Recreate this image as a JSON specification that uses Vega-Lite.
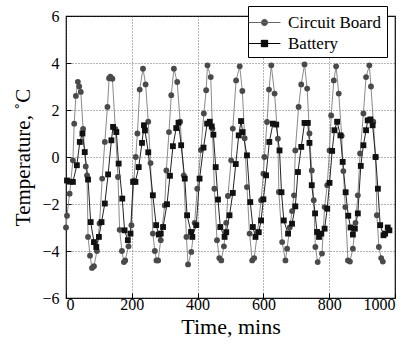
{
  "$schema": "https://vega.github.io/schema/vega-lite/v6.json",
  "width": 329,
  "height": 282,
  "autosize": "none",
  "padding": {"left": 66, "top": 16, "right": 22, "bottom": 51},
  "background": "white",
  "config": {
    "view": {"stroke": "black", "strokeWidth": 1.2},
    "font": "Liberation Serif",
    "legend": {"labelFont": "Times New Roman", "labelFontSize": 17, "labelColor": "black"},
    "text": {"font": "Liberation Serif"}
  },
  "data": {
    "values": [
      {"t": 0, "v": -3.0, "s": "Circuit Board"},
      {"t": 3, "v": -2.5, "s": "Circuit Board"},
      {"t": 11, "v": -1.56, "s": "Circuit Board"},
      {"t": 21, "v": -0.14, "s": "Circuit Board"},
      {"t": 25, "v": 1.42, "s": "Circuit Board"},
      {"t": 30, "v": 2.6, "s": "Circuit Board"},
      {"t": 36, "v": 3.2, "s": "Circuit Board"},
      {"t": 40, "v": 3.0, "s": "Circuit Board"},
      {"t": 45, "v": 2.77, "s": "Circuit Board"},
      {"t": 52, "v": 1.2, "s": "Circuit Board"},
      {"t": 60, "v": -0.4, "s": "Circuit Board"},
      {"t": 64, "v": -0.78, "s": "Circuit Board"},
      {"t": 67, "v": -3.4, "s": "Circuit Board"},
      {"t": 73, "v": -4.2, "s": "Circuit Board"},
      {"t": 79, "v": -4.72, "s": "Circuit Board"},
      {"t": 85, "v": -4.65, "s": "Circuit Board"},
      {"t": 94, "v": -4.0, "s": "Circuit Board"},
      {"t": 102, "v": -2.83, "s": "Circuit Board"},
      {"t": 110, "v": -0.92, "s": "Circuit Board"},
      {"t": 118, "v": 0.64, "s": "Circuit Board"},
      {"t": 126, "v": 2.13, "s": "Circuit Board"},
      {"t": 131, "v": 3.35, "s": "Circuit Board"},
      {"t": 135, "v": 3.42, "s": "Circuit Board"},
      {"t": 141, "v": 3.33, "s": "Circuit Board"},
      {"t": 150, "v": 1.2, "s": "Circuit Board"},
      {"t": 158, "v": -0.85, "s": "Circuit Board"},
      {"t": 163, "v": -3.1, "s": "Circuit Board"},
      {"t": 170, "v": -4.0, "s": "Circuit Board"},
      {"t": 176, "v": -4.47, "s": "Circuit Board"},
      {"t": 180, "v": -4.4, "s": "Circuit Board"},
      {"t": 190, "v": -3.8, "s": "Circuit Board"},
      {"t": 199, "v": -2.9, "s": "Circuit Board"},
      {"t": 206, "v": -1.0, "s": "Circuit Board"},
      {"t": 212, "v": 0.0, "s": "Circuit Board"},
      {"t": 217, "v": 1.0, "s": "Circuit Board"},
      {"t": 224, "v": 2.87, "s": "Circuit Board"},
      {"t": 234, "v": 3.76, "s": "Circuit Board"},
      {"t": 242, "v": 3.09, "s": "Circuit Board"},
      {"t": 250, "v": 1.5, "s": "Circuit Board"},
      {"t": 257, "v": -0.26, "s": "Circuit Board"},
      {"t": 264, "v": -3.26, "s": "Circuit Board"},
      {"t": 270, "v": -4.0, "s": "Circuit Board"},
      {"t": 275, "v": -4.4, "s": "Circuit Board"},
      {"t": 280, "v": -4.4, "s": "Circuit Board"},
      {"t": 288, "v": -3.54, "s": "Circuit Board"},
      {"t": 300, "v": -2.06, "s": "Circuit Board"},
      {"t": 305, "v": -0.57, "s": "Circuit Board"},
      {"t": 313, "v": 1.06, "s": "Circuit Board"},
      {"t": 320, "v": 2.63, "s": "Circuit Board"},
      {"t": 328, "v": 3.76, "s": "Circuit Board"},
      {"t": 338, "v": 3.19, "s": "Circuit Board"},
      {"t": 347, "v": 1.5, "s": "Circuit Board"},
      {"t": 358, "v": -0.78, "s": "Circuit Board"},
      {"t": 366, "v": -3.4, "s": "Circuit Board"},
      {"t": 371, "v": -4.57, "s": "Circuit Board"},
      {"t": 381, "v": -4.04, "s": "Circuit Board"},
      {"t": 391, "v": -2.8, "s": "Circuit Board"},
      {"t": 399, "v": -1.35, "s": "Circuit Board"},
      {"t": 410, "v": 0.3, "s": "Circuit Board"},
      {"t": 419, "v": 1.85, "s": "Circuit Board"},
      {"t": 426, "v": 2.84, "s": "Circuit Board"},
      {"t": 430, "v": 3.9, "s": "Circuit Board"},
      {"t": 440, "v": 3.4, "s": "Circuit Board"},
      {"t": 445, "v": 1.2, "s": "Circuit Board"},
      {"t": 451, "v": -1.35, "s": "Circuit Board"},
      {"t": 459, "v": -3.54, "s": "Circuit Board"},
      {"t": 466, "v": -4.3, "s": "Circuit Board"},
      {"t": 472, "v": -4.4, "s": "Circuit Board"},
      {"t": 480, "v": -3.8, "s": "Circuit Board"},
      {"t": 487, "v": -2.8, "s": "Circuit Board"},
      {"t": 492, "v": -1.66, "s": "Circuit Board"},
      {"t": 502, "v": -0.14, "s": "Circuit Board"},
      {"t": 507, "v": 1.21, "s": "Circuit Board"},
      {"t": 517, "v": 3.26, "s": "Circuit Board"},
      {"t": 528, "v": 3.86, "s": "Circuit Board"},
      {"t": 536, "v": 2.81, "s": "Circuit Board"},
      {"t": 543, "v": 0.8, "s": "Circuit Board"},
      {"t": 550, "v": -1.28, "s": "Circuit Board"},
      {"t": 558, "v": -3.26, "s": "Circuit Board"},
      {"t": 566, "v": -4.4, "s": "Circuit Board"},
      {"t": 572, "v": -4.3, "s": "Circuit Board"},
      {"t": 582, "v": -3.2, "s": "Circuit Board"},
      {"t": 593, "v": -1.84, "s": "Circuit Board"},
      {"t": 600, "v": -0.71, "s": "Circuit Board"},
      {"t": 603, "v": 0.0, "s": "Circuit Board"},
      {"t": 611, "v": 1.49, "s": "Circuit Board"},
      {"t": 617, "v": 2.87, "s": "Circuit Board"},
      {"t": 624, "v": 3.9, "s": "Circuit Board"},
      {"t": 634, "v": 2.7, "s": "Circuit Board"},
      {"t": 644, "v": 0.78, "s": "Circuit Board"},
      {"t": 647, "v": -1.49, "s": "Circuit Board"},
      {"t": 657, "v": -3.62, "s": "Circuit Board"},
      {"t": 667, "v": -4.4, "s": "Circuit Board"},
      {"t": 672, "v": -3.9, "s": "Circuit Board"},
      {"t": 680, "v": -3.0, "s": "Circuit Board"},
      {"t": 687, "v": -2.3, "s": "Circuit Board"},
      {"t": 693, "v": -1.63, "s": "Circuit Board"},
      {"t": 697, "v": 0.28, "s": "Circuit Board"},
      {"t": 707, "v": 2.13, "s": "Circuit Board"},
      {"t": 715, "v": 3.09, "s": "Circuit Board"},
      {"t": 725, "v": 3.94, "s": "Circuit Board"},
      {"t": 733, "v": 2.91, "s": "Circuit Board"},
      {"t": 740, "v": 1.0, "s": "Circuit Board"},
      {"t": 747, "v": -0.57, "s": "Circuit Board"},
      {"t": 753, "v": -1.84, "s": "Circuit Board"},
      {"t": 758, "v": -3.83, "s": "Circuit Board"},
      {"t": 765, "v": -4.47, "s": "Circuit Board"},
      {"t": 778, "v": -4.11, "s": "Circuit Board"},
      {"t": 786, "v": -2.13, "s": "Circuit Board"},
      {"t": 794, "v": -1.2, "s": "Circuit Board"},
      {"t": 801, "v": 0.28, "s": "Circuit Board"},
      {"t": 806, "v": 1.77, "s": "Circuit Board"},
      {"t": 814, "v": 3.26, "s": "Circuit Board"},
      {"t": 821, "v": 3.86, "s": "Circuit Board"},
      {"t": 829, "v": 2.7, "s": "Circuit Board"},
      {"t": 838, "v": 0.9, "s": "Circuit Board"},
      {"t": 843, "v": -0.6, "s": "Circuit Board"},
      {"t": 849, "v": -2.13, "s": "Circuit Board"},
      {"t": 857, "v": -4.4, "s": "Circuit Board"},
      {"t": 863, "v": -4.45, "s": "Circuit Board"},
      {"t": 872, "v": -3.9, "s": "Circuit Board"},
      {"t": 880, "v": -2.8, "s": "Circuit Board"},
      {"t": 887, "v": -1.63, "s": "Circuit Board"},
      {"t": 894, "v": 0.15, "s": "Circuit Board"},
      {"t": 904, "v": 1.85, "s": "Circuit Board"},
      {"t": 912, "v": 3.4, "s": "Circuit Board"},
      {"t": 922, "v": 3.9, "s": "Circuit Board"},
      {"t": 927, "v": 3.0, "s": "Circuit Board"},
      {"t": 934, "v": 1.5, "s": "Circuit Board"},
      {"t": 941, "v": 0.0, "s": "Circuit Board"},
      {"t": 945, "v": -2.48, "s": "Circuit Board"},
      {"t": 951, "v": -3.83, "s": "Circuit Board"},
      {"t": 958, "v": -4.3, "s": "Circuit Board"},
      {"t": 963, "v": -4.45, "s": "Circuit Board"},
      {"t": 3, "v": -1.0, "s": "Battery"},
      {"t": 12, "v": -1.05, "s": "Battery"},
      {"t": 21, "v": -1.06, "s": "Battery"},
      {"t": 33, "v": -0.35, "s": "Battery"},
      {"t": 42, "v": 0.64, "s": "Battery"},
      {"t": 50, "v": 1.0, "s": "Battery"},
      {"t": 57, "v": 0.21, "s": "Battery"},
      {"t": 67, "v": -0.96, "s": "Battery"},
      {"t": 75, "v": -2.77, "s": "Battery"},
      {"t": 85, "v": -3.62, "s": "Battery"},
      {"t": 92, "v": -3.83, "s": "Battery"},
      {"t": 100, "v": -3.4, "s": "Battery"},
      {"t": 108, "v": -2.77, "s": "Battery"},
      {"t": 118, "v": -1.98, "s": "Battery"},
      {"t": 128, "v": -0.74, "s": "Battery"},
      {"t": 138, "v": 0.71, "s": "Battery"},
      {"t": 143, "v": 1.28, "s": "Battery"},
      {"t": 153, "v": 1.06, "s": "Battery"},
      {"t": 160, "v": -0.28, "s": "Battery"},
      {"t": 171, "v": -1.77, "s": "Battery"},
      {"t": 178, "v": -3.12, "s": "Battery"},
      {"t": 188, "v": -3.54, "s": "Battery"},
      {"t": 196, "v": -3.26, "s": "Battery"},
      {"t": 204, "v": -1.06, "s": "Battery"},
      {"t": 211, "v": -1.06, "s": "Battery"},
      {"t": 221, "v": -0.43, "s": "Battery"},
      {"t": 231, "v": 0.6, "s": "Battery"},
      {"t": 237, "v": 1.35, "s": "Battery"},
      {"t": 240, "v": 1.13, "s": "Battery"},
      {"t": 250, "v": 0.2, "s": "Battery"},
      {"t": 264, "v": -1.63, "s": "Battery"},
      {"t": 274, "v": -2.9, "s": "Battery"},
      {"t": 282, "v": -3.3, "s": "Battery"},
      {"t": 288, "v": -3.26, "s": "Battery"},
      {"t": 295, "v": -2.98, "s": "Battery"},
      {"t": 307, "v": -2.01, "s": "Battery"},
      {"t": 316, "v": -0.8, "s": "Battery"},
      {"t": 325, "v": 0.46, "s": "Battery"},
      {"t": 335, "v": 1.23, "s": "Battery"},
      {"t": 342, "v": 1.46, "s": "Battery"},
      {"t": 350, "v": 0.5, "s": "Battery"},
      {"t": 361, "v": -0.92, "s": "Battery"},
      {"t": 368, "v": -2.48, "s": "Battery"},
      {"t": 380, "v": -3.19, "s": "Battery"},
      {"t": 384, "v": -3.4, "s": "Battery"},
      {"t": 396, "v": -2.9, "s": "Battery"},
      {"t": 406, "v": -0.92, "s": "Battery"},
      {"t": 418, "v": 0.4, "s": "Battery"},
      {"t": 429, "v": 1.42, "s": "Battery"},
      {"t": 437, "v": 1.5, "s": "Battery"},
      {"t": 443, "v": 1.3, "s": "Battery"},
      {"t": 448, "v": 0.95, "s": "Battery"},
      {"t": 455, "v": -0.43, "s": "Battery"},
      {"t": 462, "v": -1.81, "s": "Battery"},
      {"t": 469, "v": -2.98, "s": "Battery"},
      {"t": 482, "v": -3.4, "s": "Battery"},
      {"t": 487, "v": -3.2, "s": "Battery"},
      {"t": 497, "v": -2.48, "s": "Battery"},
      {"t": 507, "v": -1.53, "s": "Battery"},
      {"t": 516, "v": -0.3, "s": "Battery"},
      {"t": 525, "v": 0.92, "s": "Battery"},
      {"t": 532, "v": 1.53, "s": "Battery"},
      {"t": 537, "v": 1.06, "s": "Battery"},
      {"t": 550, "v": 0.07, "s": "Battery"},
      {"t": 560, "v": -1.92, "s": "Battery"},
      {"t": 568, "v": -2.98, "s": "Battery"},
      {"t": 576, "v": -3.4, "s": "Battery"},
      {"t": 586, "v": -3.2, "s": "Battery"},
      {"t": 593, "v": -2.7, "s": "Battery"},
      {"t": 600, "v": -1.8, "s": "Battery"},
      {"t": 608, "v": -0.78, "s": "Battery"},
      {"t": 618, "v": 0.64, "s": "Battery"},
      {"t": 629, "v": 1.42, "s": "Battery"},
      {"t": 639, "v": 1.38, "s": "Battery"},
      {"t": 649, "v": 0.28, "s": "Battery"},
      {"t": 655, "v": -1.5, "s": "Battery"},
      {"t": 662, "v": -2.7, "s": "Battery"},
      {"t": 675, "v": -3.26, "s": "Battery"},
      {"t": 687, "v": -2.84, "s": "Battery"},
      {"t": 697, "v": -2.1, "s": "Battery"},
      {"t": 705, "v": -0.64, "s": "Battery"},
      {"t": 715, "v": 0.43, "s": "Battery"},
      {"t": 725, "v": 1.45, "s": "Battery"},
      {"t": 735, "v": 1.45, "s": "Battery"},
      {"t": 740, "v": 0.6, "s": "Battery"},
      {"t": 747, "v": -1.2, "s": "Battery"},
      {"t": 757, "v": -2.4, "s": "Battery"},
      {"t": 763, "v": -3.19, "s": "Battery"},
      {"t": 769, "v": -3.4, "s": "Battery"},
      {"t": 776, "v": -3.26, "s": "Battery"},
      {"t": 786, "v": -3.05, "s": "Battery"},
      {"t": 794, "v": -2.2, "s": "Battery"},
      {"t": 801, "v": -1.1, "s": "Battery"},
      {"t": 809, "v": 0.26, "s": "Battery"},
      {"t": 816, "v": 1.14, "s": "Battery"},
      {"t": 824, "v": 1.5, "s": "Battery"},
      {"t": 834, "v": 0.92, "s": "Battery"},
      {"t": 841, "v": -0.21, "s": "Battery"},
      {"t": 850, "v": -1.5, "s": "Battery"},
      {"t": 858, "v": -2.5, "s": "Battery"},
      {"t": 865, "v": -3.0, "s": "Battery"},
      {"t": 872, "v": -3.3, "s": "Battery"},
      {"t": 878, "v": -3.05, "s": "Battery"},
      {"t": 887, "v": -2.4, "s": "Battery"},
      {"t": 896, "v": -0.38, "s": "Battery"},
      {"t": 904, "v": 0.5, "s": "Battery"},
      {"t": 912, "v": 1.14, "s": "Battery"},
      {"t": 917, "v": 1.56, "s": "Battery"},
      {"t": 925, "v": 1.6, "s": "Battery"},
      {"t": 932, "v": 1.35, "s": "Battery"},
      {"t": 941, "v": 0.0, "s": "Battery"},
      {"t": 948, "v": -1.35, "s": "Battery"},
      {"t": 955, "v": -2.9, "s": "Battery"},
      {"t": 965, "v": -3.33, "s": "Battery"},
      {"t": 970, "v": -3.26, "s": "Battery"},
      {"t": 978, "v": -3.0, "s": "Battery"},
      {"t": 983, "v": -3.12, "s": "Battery"}
    ]
  },
  "encoding": {
    "x": {
      "field": "t", "type": "quantitative",
      "scale": {"domain": [0, 1000], "nice": false, "zero": false},
      "axis": {
        "title": "Time, mins", "titleFont": "Liberation Serif", "titleFontSize": 22, "titleFontWeight": "normal", "titleColor": "black", "titlePadding": 4,
        "values": [0, 200, 400, 600, 800, 1000], "format": "d",
        "labelFont": "Liberation Serif", "labelFontSize": 16, "labelColor": "black", "labelPadding": 3,
        "domain": false, "ticks": true, "tickSize": -5, "tickColor": "black",
        "grid": true, "gridColor": "#444", "gridDash": [1, 2], "gridWidth": 0.8
      }
    },
    "y": {
      "field": "v", "type": "quantitative",
      "scale": {"domain": [-6, 6], "nice": false, "zero": false},
      "axis": {
        "title": "Temperature, ˚C", "titleFont": "Liberation Serif", "titleFontSize": 21, "titleFontWeight": "normal", "titleColor": "black", "titlePadding": 8,
        "values": [-6, -4, -2, 0, 2, 4, 6],
        "labelFont": "Liberation Serif", "labelFontSize": 16, "labelColor": "black", "labelPadding": 12,
        "domain": false, "ticks": true, "tickSize": -5, "tickColor": "black",
        "grid": true, "gridColor": "#444", "gridDash": [1, 2], "gridWidth": 0.8
      }
    }
  },
  "layer": [
    {
      "mark": {"type": "line", "strokeWidth": 1},
      "encoding": {
        "order": {"field": "t", "type": "quantitative"},
        "color": {
          "field": "s", "type": "nominal",
          "scale": {"domain": ["Circuit Board", "Battery"], "range": ["#8a8a8a", "#222222"]},
          "legend": null
        }
      }
    },
    {
      "mark": {"type": "point", "filled": true, "opacity": 1, "size": 34},
      "encoding": {
        "color": {
          "field": "s", "type": "nominal",
          "scale": {"domain": ["Circuit Board", "Battery"], "range": ["#4a4a4a", "#111111"]},
          "legend": {
            "title": null, "orient": "none", "legendX": 182, "legendY": -10,
            "labelFont": "Times New Roman", "labelFontSize": 17, "labelColor": "black", "labelOffset": 12,
            "strokeColor": "black", "fillColor": "white", "padding": 5, "rowPadding": 1,
            "symbolSize": 450, "symbolStrokeWidth": 1,
            "encoding": {
              "symbols": {
                "shape": {
                  "condition": {"test": "datum.value === 'Battery'", "value": "M-1.5,0H1.5M-0.3,-0.3H0.3V0.3H-0.3Z"},
                  "value": "M-1.5,0H1.5M-0.3,0a0.3,0.3 0 1,0 0.6,0a0.3,0.3 0 1,0 -0.6,0"
                },
                "stroke": {
                  "condition": {"test": "datum.value === 'Battery'", "value": "#000000"},
                  "value": "#666666"
                },
                "strokeWidth": {"value": 1}
              },
              "labels": {
                "font": {"value": "Times New Roman"}
              }
            }
          }
        },
        "shape": {
          "field": "s", "type": "nominal",
          "scale": {"domain": ["Circuit Board", "Battery"], "range": ["circle", "square"]},
          "legend": null
        }
      }
    }
  ],
  "resolve": {"scale": {"color": "independent"}}
}
